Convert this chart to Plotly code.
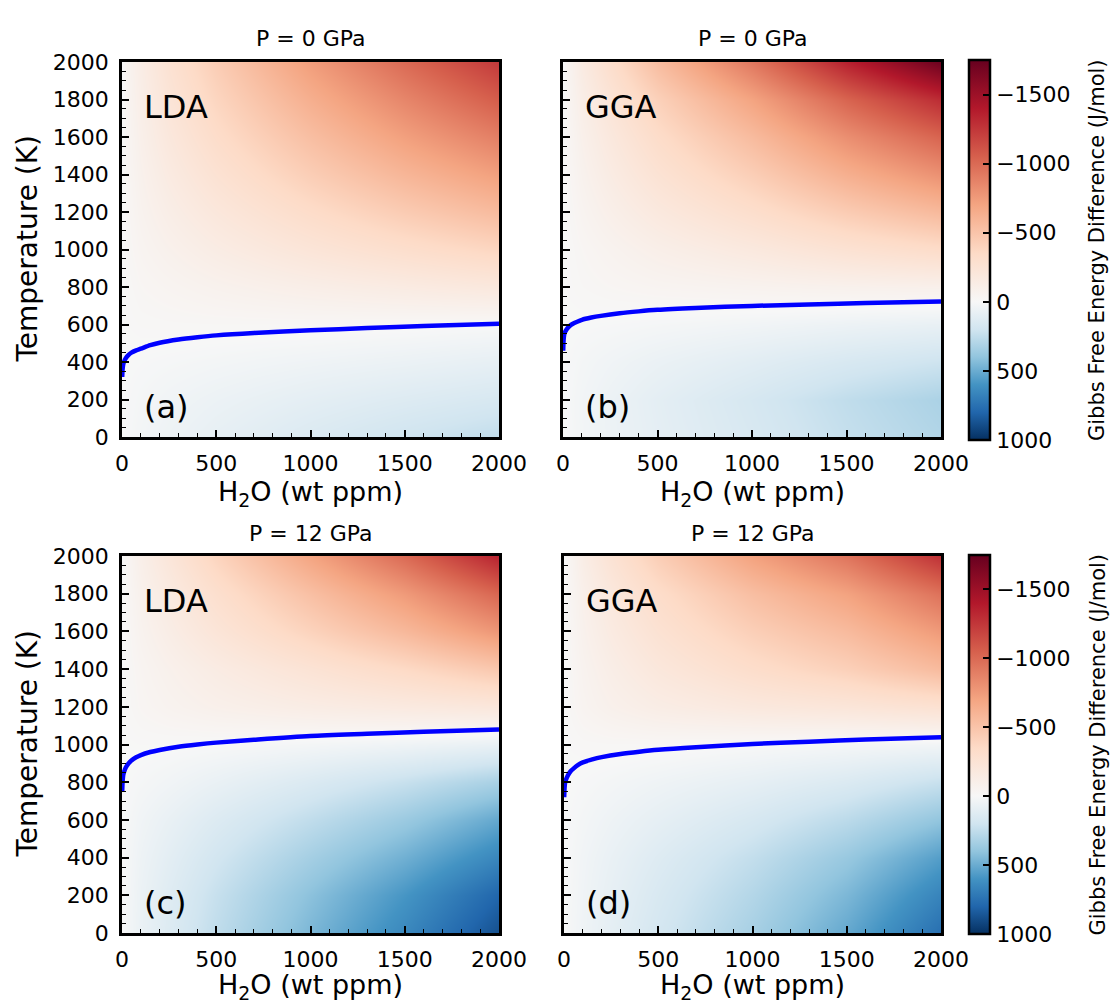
import plotly.graph_objects as go

# ---------------- data ----------------
h2o_ppm = [0, 20, 100, 250, 500, 1000, 1500, 2000]
temperature_K = [0, 200, 400, 600, 800, 1000, 1200, 1400, 1600, 1800, 2000]

# Gibbs free energy difference (J/mol); rows = temperature, cols = H2O
dG_lda_0 = [
    [0, 8, 26, 52, 88, 149, 202, 250],
    [0, 5, 18, 36, 60, 101, 137, 170],
    [0, 1, 5, 12, 23, 44, 64, 88],
    [0, -5, -12, -15, -17, -16, -8, 3],
    [0, -10, -30, -47, -73, -115, -152, -190],
    [0, -17, -48, -84, -137, -226, -305, -380],
    [0, -22, -66, -122, -200, -332, -452, -560],
    [0, -27, -82, -158, -263, -437, -590, -725],
    [0, -33, -100, -195, -326, -537, -726, -895],
    [0, -38, -116, -232, -384, -637, -858, -1065],
    [0, -44, -134, -268, -442, -742, -1000, -1240],
]
dG_gga_0 = [
    [0, 7, 27, 54, 96, 162, 237, 300],
    [0, 8, 29, 58, 102, 173, 253, 320],
    [0, 5, 19, 38, 67, 113, 166, 210],
    [0, -1, 2, 6, 16, 35, 58, 80],
    [0, -7, -18, -30, -45, -63, -80, -90],
    [0, -8, -30, -59, -106, -178, -261, -330],
    [0, -14, -51, -103, -182, -308, -450, -570],
    [0, -20, -72, -144, -256, -432, -632, -800],
    [0, -26, -93, -185, -330, -556, -814, -1030],
    [0, -33, -117, -234, -416, -702, -1027, -1300],
    [0, -43, -155, -310, -550, -929, -1359, -1720],
]
dG_lda_12 = [
    [0, 18, 70, 141, 255, 458, 651, 880],
    [0, 16, 64, 128, 232, 416, 592, 800],
    [0, 13, 53, 106, 191, 343, 488, 660],
    [0, 8, 38, 76, 140, 255, 372, 520],
    [0, 2, 14, 34, 72, 150, 231, 330],
    [0, -3, -6, -4, 3, 23, 48, 80],
    [0, -11, -34, -59, -92, -135, -167, -200],
    [0, -13, -45, -85, -145, -250, -355, -480],
    [0, -17, -65, -128, -228, -405, -577, -780],
    [0, -21, -82, -163, -296, -530, -755, -1020],
    [0, -27, -108, -216, -392, -702, -999, -1350],
]
dG_gga_12 = [
    [0, 11, 46, 99, 182, 334, 517, 760],
    [0, 10, 40, 87, 161, 295, 456, 670],
    [0, 8, 34, 73, 134, 246, 381, 560],
    [0, 5, 22, 50, 92, 172, 270, 400],
    [0, -1, 7, 21, 45, 90, 148, 230],
    [0, -6, -13, -16, -14, 2, 18, 35],
    [0, -16, -50, -87, -130, -185, -218, -270],
    [0, -18, -62, -120, -200, -320, -420, -560],
    [0, -22, -80, -158, -265, -430, -562, -760],
    [0, -24, -96, -192, -326, -538, -710, -960],
    [0, -32, -128, -256, -435, -717, -947, -1280],
]

# phase boundary (dG = 0) curves
curve_h2o = [1, 3, 6, 10, 20, 35, 50, 75, 100, 150, 200, 300, 400, 500, 700, 1000, 1300, 1600, 2000]
curve_T_lda_0 = [320, 360, 385, 400, 420, 438, 450, 462, 471, 490, 503, 520, 532, 542, 555, 569, 581, 592, 604]
curve_T_gga_0 = [460, 515, 545, 558, 575, 592, 603, 615, 625, 637, 646, 660, 670, 678, 688, 699, 707, 714, 722]
curve_T_lda_12 = [750, 800, 835, 852, 878, 900, 915, 932, 944, 960, 971, 988, 1000, 1010, 1025, 1045, 1057, 1068, 1080]
curve_T_gga_12 = [720, 770, 800, 812, 835, 858, 872, 892, 905, 921, 933, 950, 962, 972, 986, 1003, 1015, 1027, 1039]

cbar_tick_values = [-1500, -1000, -500, 0, 500, 1000]
cbar_tick_labels = ["\u22121500", "\u22121000", "\u2212500", "0", "500", "1000"]
DG_MIN, DG_MAX = -1750, 1000

panel_titles = ["P = 0 GPa", "P = 0 GPa", "P = 12 GPa", "P = 12 GPa"]
method_labels = ["LDA", "GGA", "LDA", "GGA"]
panel_letters = ["(a)", "(b)", "(c)", "(d)"]

# ---------------- styling / layout ----------------
W, H = 1114, 1006
FONT = "DejaVu Sans"

def xp(px):
    return px / W

def yp(py):
    return 1 - py / H

# RdBu anchors, diverging around 0 (two-slope)
rdbu = ['#67001f', '#b2182b', '#d6604d', '#f4a582', '#fddbc7', '#f7f7f7',
        '#d1e5f0', '#92c5de', '#4393c3', '#2166ac', '#053061']
span = DG_MAX - DG_MIN
colorscale = []
for i, c in enumerate(rdbu):
    f = i / 10
    if f <= 0.5:
        dg = -(0.5 - f) / 0.5 * (-DG_MIN)
    else:
        dg = (f - 0.5) / 0.5 * DG_MAX
    zp = -dg  # plotted value is -dG so that negative dG sits at the top
    colorscale.append([(zp + DG_MAX) / span, c])
colorscale.sort(key=lambda a: a[0])

# panel pixel boxes: (left, right, top, bottom)
boxes = [(122, 499, 62, 437), (563, 941, 62, 437), (122, 499, 556, 933), (564, 941, 556, 933)]

fields = [dG_lda_0, dG_gga_0, dG_lda_12, dG_gga_12]
curves = [curve_T_lda_0, curve_T_gga_0, curve_T_lda_12, curve_T_gga_12]

fig = go.Figure()
for k in range(4):
    sfx = "" if k == 0 else str(k + 1)
    ca = "coloraxis" if k < 2 else "coloraxis2"
    fig.add_trace(go.Heatmap(
        x=h2o_ppm, y=temperature_K,
        z=[[-v for v in row] for row in fields[k]],
        zsmooth="best", coloraxis=ca,
        xaxis="x" + sfx, yaxis="y" + sfx, hoverinfo="skip"))
    fig.add_trace(go.Scatter(
        x=curve_h2o, y=curves[k], mode="lines",
        line=dict(color="#0000ff", width=4.5, shape="spline", smoothing=0.8),
        xaxis="x" + sfx, yaxis="y" + sfx, showlegend=False, hoverinfo="skip"))

layout = dict(
    width=W, height=H, autosize=False, margin=dict(l=0, r=0, t=0, b=0, pad=0),
    paper_bgcolor="white", plot_bgcolor="white",
    font=dict(family=FONT, color="black"), showlegend=False,
)

for k, (l, r, t, b) in enumerate(boxes):
    sfx = "" if k == 0 else str(k + 1)
    xa = dict(
        domain=[xp(l), xp(r)], anchor="y" + sfx, range=[0, 2000], automargin=False,
        tick0=0, dtick=500, ticks="inside", ticklen=7, tickwidth=1.5, tickcolor="black",
        showline=True, linewidth=2.5, linecolor="black", mirror=True,
        showgrid=False, zeroline=False,
        tickfont=dict(size=22, family=FONT, color="black"), ticklabelstandoff=5,
        minor=dict(dtick=100, ticks="inside", ticklen=4, tickwidth=1.2, tickcolor="black", showgrid=False),
    )
    ya = dict(
        domain=[yp(b), yp(t)], anchor="x" + sfx, range=[0, 2000], automargin=False,
        tick0=0, dtick=200, ticks="inside", ticklen=7, tickwidth=1.5, tickcolor="black",
        showline=True, linewidth=2.5, linecolor="black", mirror=True,
        showgrid=False, zeroline=False, showticklabels=(k % 2 == 0),
        tickfont=dict(size=22, family=FONT, color="black"), ticklabelstandoff=6,
        minor=dict(dtick=50, ticks="inside", ticklen=4, tickwidth=1.2, tickcolor="black", showgrid=False),
    )
    layout["xaxis" + sfx] = xa
    layout["yaxis" + sfx] = ya


def cbar(top, bottom):
    return dict(
        x=xp(969), xanchor="left", xref="paper",
        y=yp((top + bottom) / 2), yanchor="middle", yref="paper",
        len=(bottom - top) / H, lenmode="fraction",
        thickness=21, thicknessmode="pixels", xpad=0, ypad=0,
        outlinewidth=2.5, outlinecolor="black",
        tickmode="array", tickvals=[-v for v in cbar_tick_values], ticktext=cbar_tick_labels,
        ticks="inside", ticklen=8, tickwidth=1.5, tickcolor="black",
        tickfont=dict(size=22, family=FONT, color="black"),
    )

layout["coloraxis"] = dict(colorscale=colorscale, cmin=-DG_MAX, cmax=-DG_MIN, colorbar=cbar(60, 440))
layout["coloraxis2"] = dict(colorscale=colorscale, cmin=-DG_MAX, cmax=-DG_MIN, colorbar=cbar(555, 934))

annotations = []
shapes = []
for k, (l, r, t, b) in enumerate(boxes):
    sfx = "" if k == 0 else str(k + 1)
    cx = (l + r) / 2
    annotations.append(dict(text=panel_titles[k], x=xp(cx), y=yp(t - 23), xref="paper", yref="paper",
                            showarrow=False, xanchor="center", yanchor="middle",
                            font=dict(size=22, family=FONT, color="black")))
    if k < 2:
        ty, tanchor = yp(b + 57), "middle"
    else:
        ty, tanchor = yp(1006), "bottom"
    annotations.append(dict(text="H<sub>2</sub>O (wt ppm)", x=xp(cx), y=ty, xref="paper", yref="paper",
                            showarrow=False, xanchor="center", yanchor=tanchor,
                            font=dict(size=27, family=FONT, color="black")))
    annotations.append(dict(text=method_labels[k], x=108, y=1760, xref="x" + sfx, yref="y" + sfx,
                            showarrow=False, xanchor="left", yanchor="middle",
                            font=dict(size=32, family=FONT, color="black")))
    annotations.append(dict(text=panel_letters[k], x=108, y=160, xref="x" + sfx, yref="y" + sfx,
                            showarrow=False, xanchor="left", yanchor="middle",
                            font=dict(size=32, family=FONT, color="black")))
    if k % 2 == 0:
        annotations.append(dict(text="Temperature (K)", x=xp(27), y=yp((t + b) / 2), xref="paper", yref="paper",
                                showarrow=False, xanchor="center", yanchor="middle", textangle=-90,
                                font=dict(size=28, family=FONT, color="black")))

for (top, bottom) in [(60, 440), (555, 934)]:
    annotations.append(dict(text="Gibbs Free Energy Difference (J/mol)", x=xp(1097), y=yp((top + bottom) / 2),
                            xref="paper", yref="paper", showarrow=False, xanchor="center", yanchor="middle",
                            textangle=-90, font=dict(size=21, family=FONT, color="black")))
    # minor colorbar ticks every 100 J/mol
    for v in range(-1700, 1000, 100):
        if v % 500 == 0:
            continue
        ypx = bottom - (DG_MAX - v) / span * (bottom - top)
        shapes.append(dict(type="line", xref="paper", yref="paper",
                           x0=xp(990 - 4.5), x1=xp(990), y0=yp(ypx), y1=yp(ypx),
                           line=dict(color="black", width=1.2)))

layout["annotations"] = annotations
layout["shapes"] = shapes
fig.update_layout(**layout)

fig.write_html(
    "out.html",
    config={"responsive": False, "displayModeBar": False},
    post_script="document.body.style.margin='0';document.body.style.overflow='hidden';",
)
